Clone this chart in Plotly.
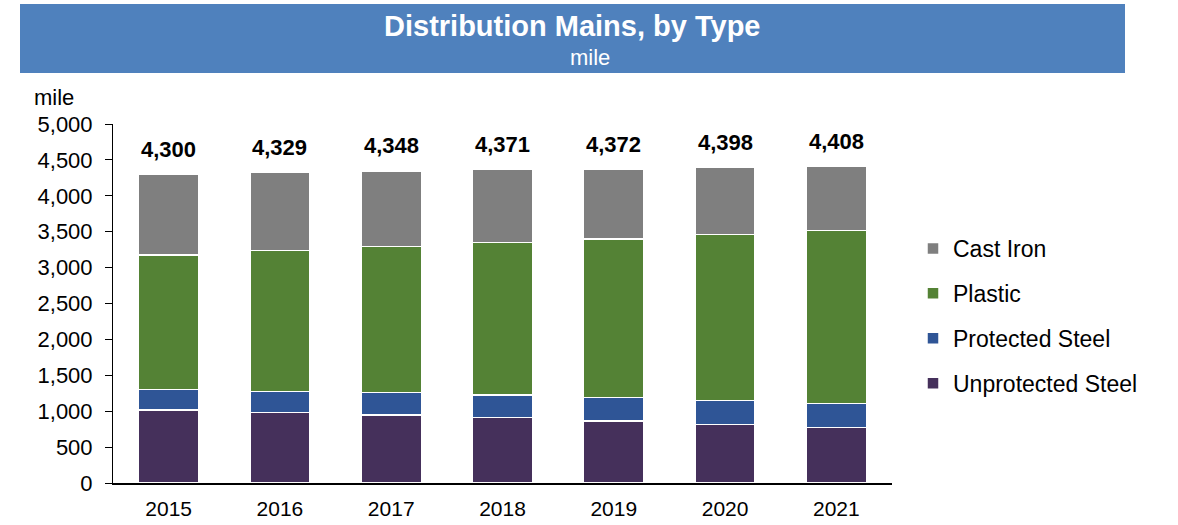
import plotly.graph_objects as go

# Miles of distribution main by material, per year
years = ["2015", "2016", "2017", "2018", "2019", "2020", "2021"]
unprotected_steel = [1020, 985, 947, 910, 864, 817, 776]
protected_steel = [285, 292, 311, 316, 324, 329, 334]
plastic = [1870, 1964, 2039, 2126, 2210, 2318, 2404]
cast_iron = [1125, 1088, 1051, 1019, 974, 934, 894]

y_ticks = [0, 500, 1000, 1500, 2000, 2500, 3000, 3500, 4000, 4500, 5000]

FONT = "Arial, 'Liberation Sans', sans-serif"
W, H = 1178, 525
ML, MR, MT, MB = 113, 286, 124, 42
PW = W - ML - MR
PH = H - MT - MB


def px_x(x):
    return (x - ML) / PW


def px_y(y):
    return (H - MB - y) / PH


# one slot per year on a linear axis, labelled with the year
slots = list(range(len(years)))

series = [
    ("Unprotected Steel", unprotected_steel, "#45305B", 4),
    ("Protected Steel", protected_steel, "#2F5596", 3),
    ("Plastic", plastic, "#548235", 2),
    ("Cast Iron", cast_iron, "#7F7F7F", 1),
]

fig = go.Figure()
for name, vals, color, rank in series:
    fig.add_trace(go.Bar(
        x=slots, y=vals, name=name, legendgroup=name, legendrank=rank,
        customdata=years,
        hovertemplate="%{customdata}<br>" + name + ": %{y:,}<extra></extra>",
        marker=dict(color=color, line=dict(color="white", width=1.5)),
    ))

totals = [sum(v) for v in zip(unprotected_steel, protected_steel, plastic, cast_iron)]

annotations = []
for i, tot in zip(slots, totals):
    annotations.append(dict(
        x=i, y=tot, xref="x", yref="y", text=f"<b>{tot:,}</b>",
        showarrow=False, yanchor="middle", yshift=25,
        font=dict(family=FONT, size=22, color="black"),
    ))

# Banner title and subtitle
annotations += [
    dict(x=px_x(572), y=px_y(26), xref="paper", yref="paper",
         text="<b>Distribution Mains, by Type</b>", showarrow=False,
         xanchor="center", yanchor="middle",
         font=dict(family=FONT, size=29, color="white")),
    dict(x=px_x(590), y=px_y(58), xref="paper", yref="paper",
         text="mile", showarrow=False, xanchor="center", yanchor="middle",
         font=dict(family=FONT, size=22, color="white")),
    dict(x=px_x(32), y=px_y(97), xref="paper", yref="paper",
         text="mile", showarrow=False, xanchor="left", yanchor="middle",
         font=dict(family=FONT, size=22, color="black")),
]

shapes = [dict(
    type="rect", xref="paper", yref="paper",
    x0=px_x(20), x1=px_x(1125), y0=px_y(73), y1=px_y(4),
    fillcolor="#4F81BD", line=dict(width=0), layer="below",
)]

fig.update_layout(
    width=W, height=H,
    margin=dict(l=ML, r=MR, t=MT, b=MB, pad=0),
    barmode="stack", bargap=0.46,
    paper_bgcolor="white", plot_bgcolor="white",
    font=dict(family=FONT, size=21, color="black"),
    showlegend=True,
    legend=dict(
        x=px_x(913), y=px_y(227), xanchor="left", yanchor="top",
        traceorder="grouped", tracegroupgap=12,
        font=dict(family=FONT, size=23, color="black"),
        bgcolor="rgba(0,0,0,0)",
    ),
    xaxis=dict(
        range=[-0.5, len(years) - 0.5], tickvals=slots, ticktext=years,
        showline=True, linecolor="black", linewidth=2,
        ticks="outside", ticklen=6, tickcolor="rgba(0,0,0,0)",
        showgrid=False, zeroline=False, automargin=False,
        tickfont=dict(family=FONT, size=21, color="black"),
    ),
    yaxis=dict(
        range=[0, 5000], tickvals=y_ticks, tickformat=",d",
        showline=True, linecolor="black", linewidth=1,
        ticks="outside", ticklen=7, tickcolor="black", tickwidth=1,
        showgrid=False, zeroline=False, automargin=False,
        ticklabelstandoff=8,
        tickfont=dict(family=FONT, size=22, color="black"),
    ),
    annotations=annotations,
    shapes=shapes,
)

fig.write_html("out.html")
